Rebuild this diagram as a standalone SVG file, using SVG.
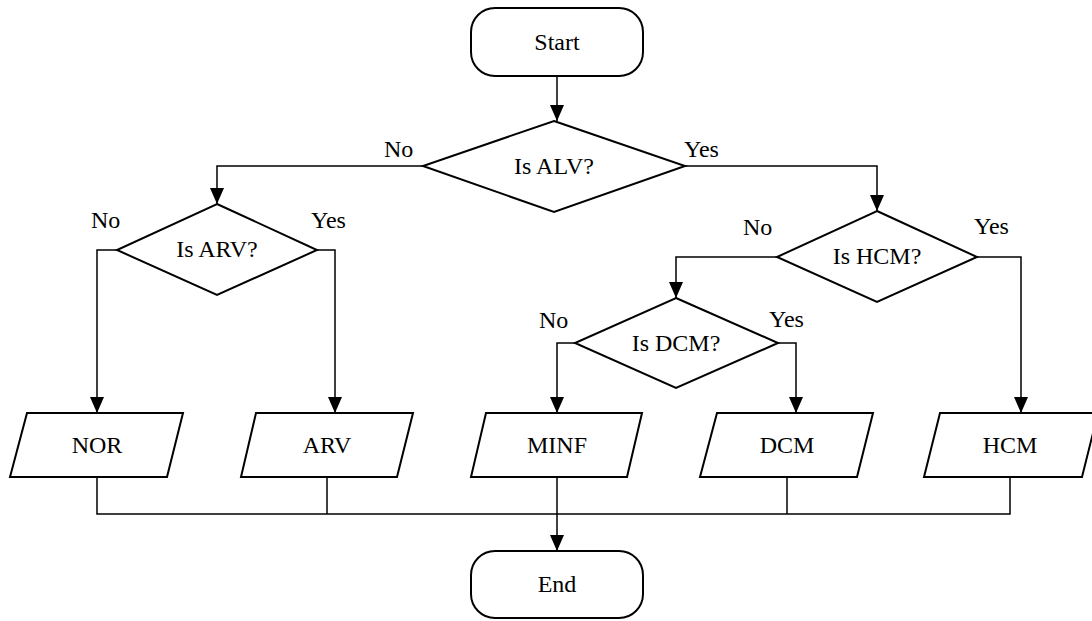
<svg xmlns="http://www.w3.org/2000/svg" width="1092" height="621" viewBox="0 0 1092 621">
<defs>
<marker id="arr" viewBox="0 0 16 14" refX="16" refY="7" markerWidth="16" markerHeight="14" markerUnits="userSpaceOnUse" orient="auto">
<path d="M0,0 L16,7 L0,14 Z" fill="#000"/>
</marker>
</defs>
<rect width="1092" height="621" fill="#fff"/>
<g id="connectors" fill="none" stroke="#000" stroke-width="1.5">
<line x1="557" y1="76" x2="557" y2="121" marker-end="url(#arr)"/>
<polyline points="423,166 217,166 217,204" marker-end="url(#arr)"/>
<polyline points="685,166 877,166 877,211" marker-end="url(#arr)"/>
<polyline points="117,250 97,250 97,413" marker-end="url(#arr)"/>
<polyline points="317,250 335,250 335,413" marker-end="url(#arr)"/>
<polyline points="777,257 676,257 676,298" marker-end="url(#arr)"/>
<polyline points="977,257 1021,257 1021,413" marker-end="url(#arr)"/>
<polyline points="575,343 557,343 557,413" marker-end="url(#arr)"/>
<polyline points="778,343 796,343 796,413" marker-end="url(#arr)"/>
<polyline points="97,477 97,514 1010,514 1010,477"/>
<line x1="327" y1="477" x2="327" y2="514"/>
<line x1="787" y1="477" x2="787" y2="514"/>
<line x1="557" y1="477" x2="557" y2="551" marker-end="url(#arr)"/>
</g>
<g fill="#fff" stroke="#000" stroke-width="2">
<g id="start">
<rect x="471" y="8" width="172" height="68" rx="24"/>
</g>
<g id="is-alv">
<polygon points="554,121 685,166 554,212 423,166"/>
</g>
<g id="is-arv">
<polygon points="217,204 317,250 217,295 117,250"/>
</g>
<g id="is-hcm">
<polygon points="877,211 977,257 877,302 777,257"/>
</g>
<g id="is-dcm">
<polygon points="676,298 778,343 676,388 575,343"/>
</g>
<g id="nor">
<polygon points="27,413 183,413 167,477 10,477"/>
</g>
<g id="arv">
<polygon points="256,413 413,413 397,477 241,477"/>
</g>
<g id="minf">
<polygon points="486,413 642,413 627,477 471,477"/>
</g>
<g id="dcm">
<polygon points="717,413 873,413 857,477 700,477"/>
</g>
<g id="hcm">
<polygon points="940,413 1098,413 1082,477 924,477"/>
</g>
<g id="end">
<rect x="471" y="551" width="172" height="67" rx="24"/>
</g>
</g>
<g id="texts" font-family="Liberation Serif" font-size="24" fill="#000" text-anchor="middle">
<text x="557" y="50">Start</text>
<text x="554" y="174">Is ALV?</text>
<text x="217" y="257">Is ARV?</text>
<text x="877" y="264">Is HCM?</text>
<text x="676" y="351">Is DCM?</text>
<text x="97" y="453">NOR</text>
<text x="327" y="453">ARV</text>
<text x="557" y="453">MINF</text>
<text x="787" y="453">DCM</text>
<text x="1010" y="453">HCM</text>
<text x="557" y="592">End</text>
</g>
<g id="labels" font-family="Liberation Serif" font-size="24" fill="#000">
<text x="384" y="157">No</text>
<text x="684" y="157">Yes</text>
<text x="91" y="228">No</text>
<text x="311" y="228">Yes</text>
<text x="743" y="235">No</text>
<text x="974" y="234">Yes</text>
<text x="539" y="328">No</text>
<text x="769" y="327">Yes</text>
</g>
</svg>
